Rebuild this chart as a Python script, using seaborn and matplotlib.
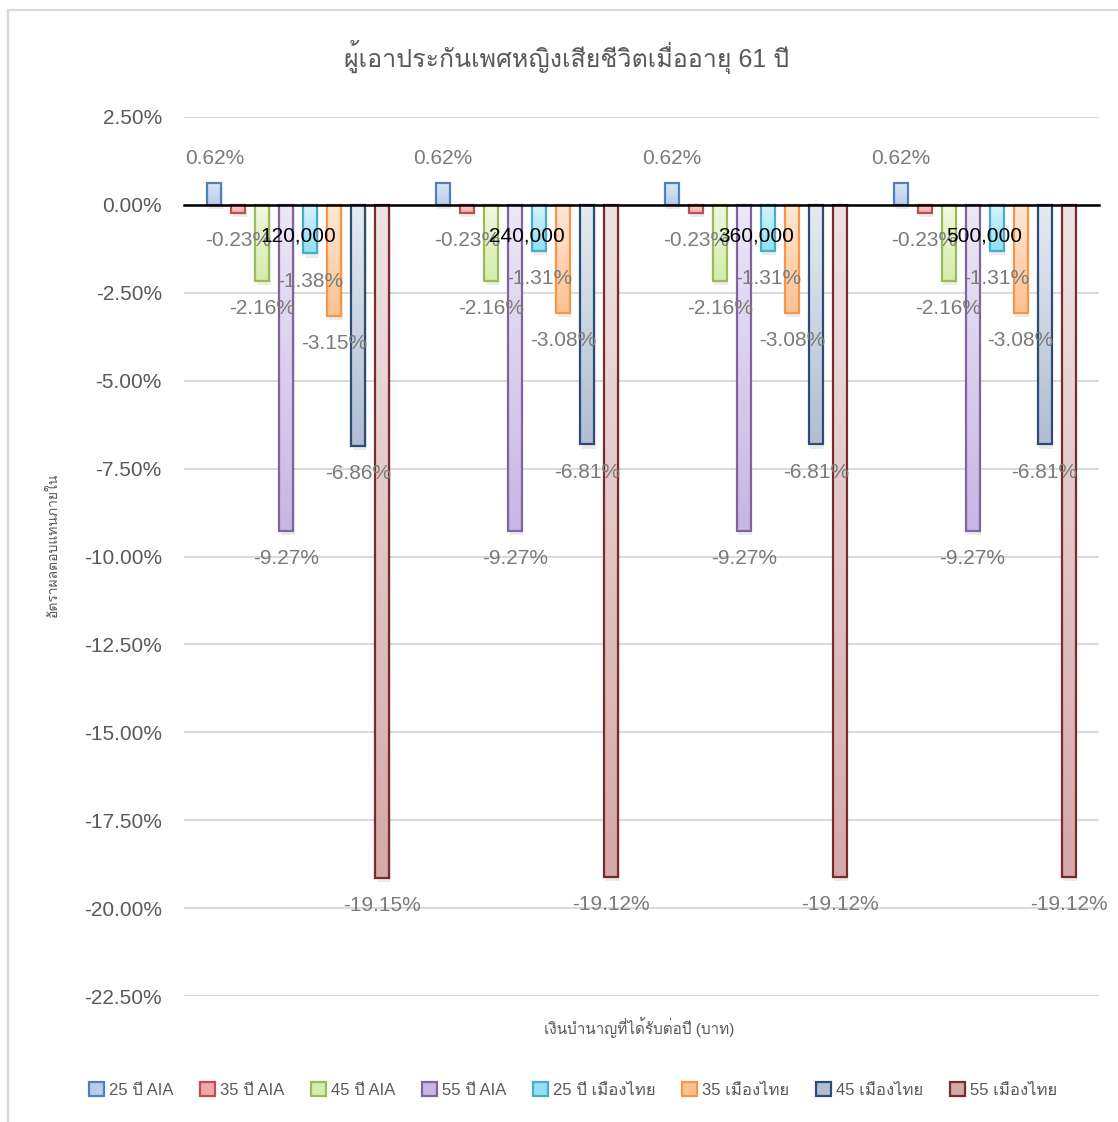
import numpy as np
import pandas as pd
import matplotlib
matplotlib.use('Agg')
import matplotlib.pyplot as plt
import seaborn as sns
from matplotlib import font_manager, ft2font
from matplotlib.colors import LinearSegmentedColormap
from matplotlib.patches import Patch, Rectangle

# ข้อมูล
amounts = ['120,000', '240,000', '360,000', '500,000']
series = ['25 ปี AIA', '35 ปี AIA', '45 ปี AIA', '55 ปี AIA',
          '25 ปี เมืองไทย', '35 เมืองไทย', '45 เมืองไทย', '55 เมืองไทย']
aia_25 = [0.62, 0.62, 0.62, 0.62]
aia_35 = [-0.23, -0.23, -0.23, -0.23]
aia_45 = [-2.16, -2.16, -2.16, -2.16]
aia_55 = [-9.27, -9.27, -9.27, -9.27]
mt_25 = [-1.38, -1.31, -1.31, -1.31]
mt_35 = [-3.15, -3.08, -3.08, -3.08]
mt_45 = [-6.86, -6.81, -6.81, -6.81]
mt_55 = [-19.15, -19.12, -19.12, -19.12]
yticks = [2.5, 0, -2.5, -5, -7.5, -10, -12.5, -15, -17.5, -20, -22.5]

title = 'ผู้เอาประกันเพศหญิงเสียชีวิตเมื่ออายุ 61 ปี'
xlabel = 'เงินบำนาญที่ได้รับต่อปี (บาท)'
ylabel = 'อัตราผลตอบแทนภายใน'

# สี: ขอบ, บน, ล่าง
edges = ['#4F81BD', '#C0504D', '#9BBB59', '#8064A2', '#4BACC6', '#F79646', '#2C4D75', '#7B2B2B']
tops = ['#dce6f5', '#f9dcdc', '#f0f9e0', '#ede8f6', '#d8f4fc', '#fee8d6', '#e6ebf2', '#f0e3e3']
bottoms = ['#b9cdeb', '#f0a9a8', '#d5ecaa', '#c6b6e3', '#8fe0f5', '#fcc191', '#b0bdd3', '#d4a9a9']

values = [aia_25, aia_35, aia_45, aia_55, mt_25, mt_35, mt_45, mt_55]
rows = []
for s, vals in zip(series, values):
    for a, v in zip(amounts, vals):
        rows.append({'amount': a, 'series': s, 'irr': v})
df = pd.DataFrame(rows)


def thai_font():
    # หาฟอนต์ที่มีอักษรไทย
    for f in font_manager.fontManager.ttflist:
        try:
            if 0x0E1B in ft2font.FT2Font(f.fname).get_charmap():
                return f.name
        except Exception:
            pass
    return 'DejaVu Sans'


sns.set_style('white')
plt.rcParams['font.family'] = ['Liberation Sans', thai_font(), 'DejaVu Sans']

W, H = 1118, 1122
fig = plt.figure(figsize=(W / 100, H / 100), dpi=100)
ax = fig.add_axes([184 / W, 1 - 996 / H, 915 / W, 879 / H])

sns.barplot(data=df, x='amount', y='irr', hue='series', order=amounts,
            hue_order=series, width=0.84, gap=0.42, errorbar=None,
            legend=False, ax=ax)

# ไล่สีในแท่ง + เงา
for cont, ec, top, bot in zip(ax.containers, edges, tops, bottoms):
    cmap = LinearSegmentedColormap.from_list('g', [top, bot])
    for p in cont.patches:
        x0, y0 = p.get_x(), p.get_y()
        w, h = p.get_width(), p.get_height()
        p.set_facecolor('none')
        p.set_edgecolor(ec)
        p.set_linewidth(1.6)
        p.set_zorder(4)
        ylo, yhi = min(y0, y0 + h), max(y0, y0 + h)
        grad = np.linspace(0, 1, 256).reshape(-1, 1)
        im = ax.imshow(grad, cmap=cmap, aspect='auto', origin='upper',
                       extent=(x0, x0 + w, ylo, yhi), zorder=3)
        im.set_clip_path(p)
        ax.add_patch(Rectangle((x0 + 0.006, ylo - 0.12), w, yhi - ylo,
                               facecolor='#000000', alpha=0.08, lw=0, zorder=2))

ax.set_xlim(-0.5, 3.5)
ax.set_ylim(-22.5, 2.5)

# ป้ายค่า
for cont, vals in zip(ax.containers, values):
    for p, v in zip(cont.patches, vals):
        xc = p.get_x() + p.get_width() / 2
        off = 18 if v > 0 else -20
        ax.annotate(f'{v:.2f}%', (xc, v), xytext=(0, off), textcoords='offset points',
                    ha='center', va='center', fontsize=15, color='#7a7a7a', zorder=6)

# ป้ายหมวด (อยู่บนแท่ง)
for i, a in enumerate(amounts):
    ax.annotate(a, (i, 0), xytext=(0, -22.5), textcoords='offset points',
                ha='center', va='center', fontsize=15, color='black', zorder=7)

ax.set_xticks(range(len(amounts)))
ax.set_xticklabels([])
ax.set_yticks(yticks)
ax.set_yticklabels([f'{t:.2f}%' for t in yticks])
ax.yaxis.grid(True, color='#d9d9d9', lw=1.4)
ax.set_axisbelow(True)
for s in ['left', 'right', 'top']:
    ax.spines[s].set_visible(False)
ax.spines['bottom'].set_position(('data', 0))
ax.spines['bottom'].set_color('black')
ax.spines['bottom'].set_linewidth(1.8)
ax.spines['bottom'].set_zorder(5)
ax.tick_params(axis='y', length=0, pad=16, labelsize=15, labelcolor='#595959')
ax.tick_params(axis='x', length=0)

ax.set_xlabel(xlabel, fontsize=11, color='#595959')
ax.xaxis.set_label_coords(0.498, -0.024)
ax.set_ylabel(ylabel, fontsize=10, color='#595959')
ax.yaxis.set_label_coords(-0.1355, 0.513)

fig.text(567 / W, 1 - 57 / H, title, ha='center', va='center', fontsize=18, color='#595959')

handles = [Patch(facecolor=t, edgecolor=e, lw=1.6) for t, e in zip(bottoms, edges)]
fig.legend(handles, series, loc='center', bbox_to_anchor=(573 / W, 1 - 1090 / H), ncol=8,
           frameon=False, fontsize=12, handlelength=0.9, handleheight=0.9,
           handletextpad=0.3, columnspacing=1.6, labelcolor='#595959')

# กรอบพื้นที่แผนภูมิ
fig.patches.append(Rectangle((8 / W, -0.1), 1.2, 1 - 10 / H + 0.1, transform=fig.transFigure,
                             fill=False, edgecolor='#d9d9d9', lw=1.6))

fig.savefig('out.png', dpi=100)
